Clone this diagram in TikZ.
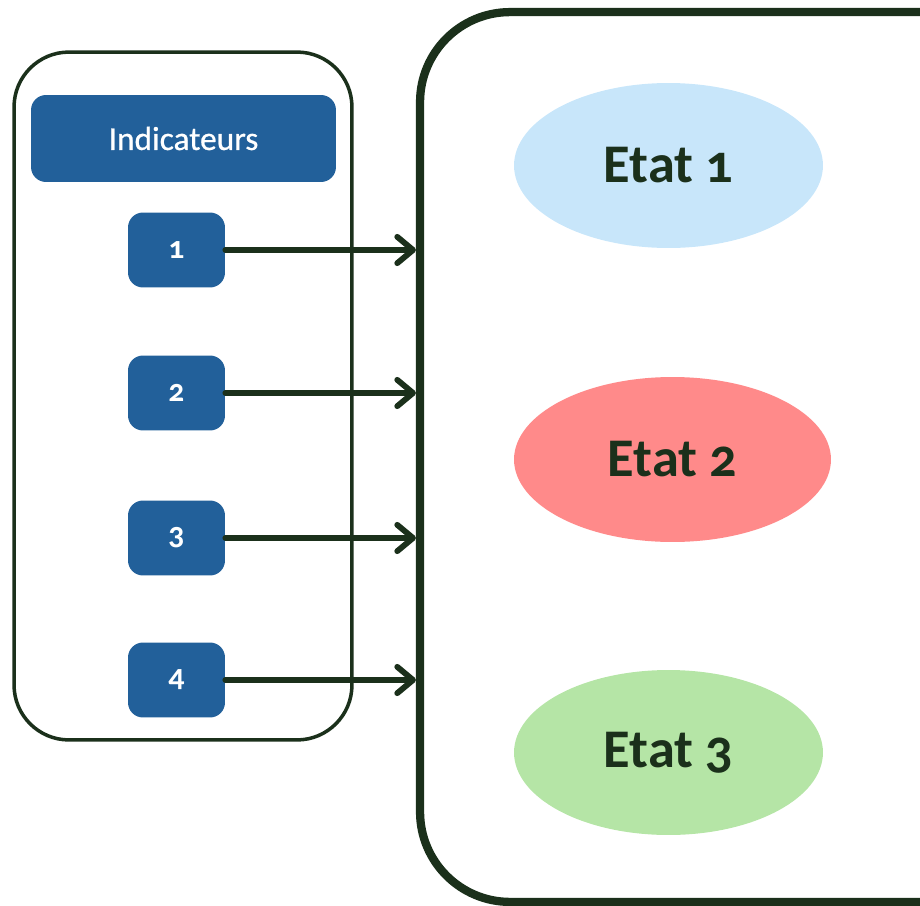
\documentclass[tikz,border=0pt]{standalone}
\usepackage{fontspec}
\setmainfont{Carlito}[Numbers=OldStyle]
\newfontfamily\semifont{Carlito}[FakeBold=0.7]
\usepackage{xcolor}
\usepackage{tikz}
\usetikzlibrary{shapes.geometric, arrows.meta, positioning, calc}

\definecolor{indblue}{RGB}{34,96,154}
\definecolor{darkline}{RGB}{27,48,27}
\definecolor{etatblue}{RGB}{200,230,250}
\definecolor{etatred}{RGB}{255,138,138}
\definecolor{etatgreen}{RGB}{181,229,166}

\tikzset{
  indbox/.style={rectangle, rounded corners=0.3cm, fill=indblue, text=white, inner sep=0pt},
  numbox/.style={indbox, minimum width=1.94cm, minimum height=1.5cm, font=\fontsize{18}{20}\selectfont\bfseries},
  etat/.style={ellipse, inner sep=0pt, minimum height=3.3cm, text=darkline, font=\fontsize{31}{34}\selectfont\bfseries},
  flow/.style={darkline, line width=3.3pt, line cap=round, -{Straight Barb[length=9pt, width=15pt, round]}}
}

\begin{document}
\begin{tikzpicture}[x=0.02cm, y=-0.02cm]
  \useasboundingbox (0,0) rectangle (920,906);

  % Cadres
  \node[draw=darkline, line width=2pt, rounded corners=1.1cm, minimum width=6.76cm, minimum height=13.76cm] (left) at (183,396) {};
  \node[draw=darkline, line width=4.7pt, rounded corners=1.8cm, minimum width=12cm, minimum height=17.8cm] (frame) at (720,457) {};

  % Indicateurs
  \node[indbox, minimum width=6.1cm, minimum height=1.74cm, font=\fontsize{19}{22}\semifont] (ind) at (183.5,138.5) {Indicateurs};

  % numeros et fleches
  \foreach \y/\lbl in {250/1, 393/2, 538/3, 680/4} {
    \node[numbox] (n\lbl) at (176.5,\y) {\lbl};
    \draw[flow] (n\lbl.east) -- (n\lbl.east -| frame.west);
  }

  % Etats
  \node[etat, fill=etatblue, minimum width=6.18cm] (e1) at (668.5,165.5) {Etat 1};
  \node[etat, fill=etatred, minimum width=6.34cm] (e2) at (672.5,459.5) {Etat 2};
  \node[etat, fill=etatgreen, minimum width=6.18cm] (e3) at (668.5,752.5) {Etat 3};
\end{tikzpicture}
\end{document}
